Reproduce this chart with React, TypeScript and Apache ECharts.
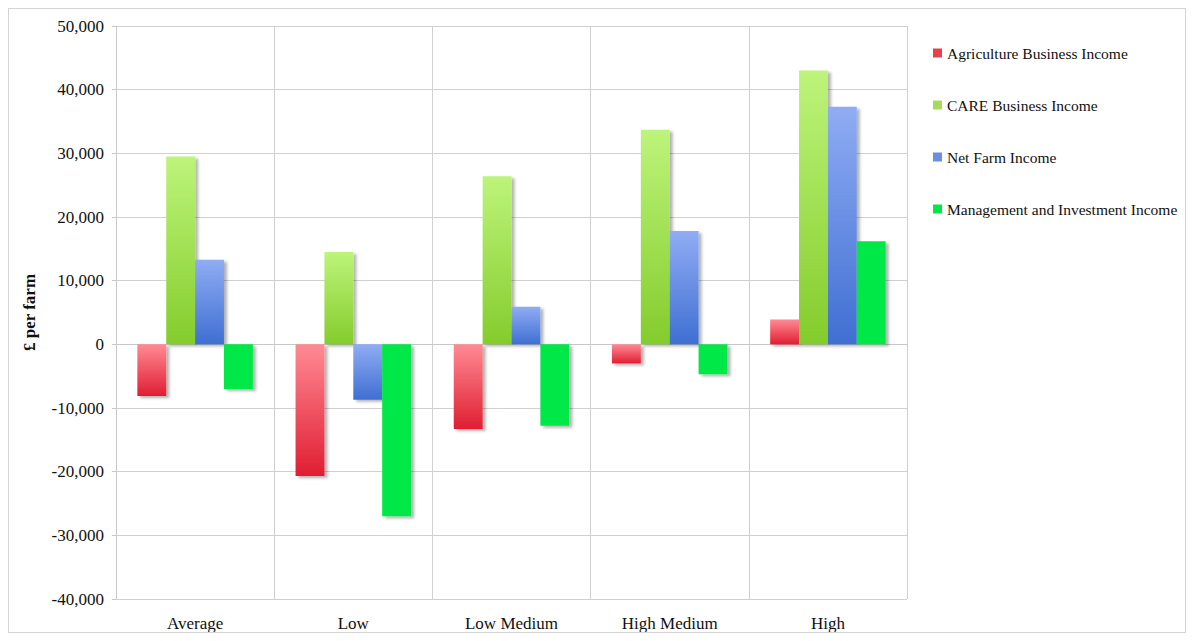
import React, { useEffect, useRef } from "react";
import * as echarts from "echarts";

const categories = ["Average", "Low", "Low Medium", "High Medium", "High"];
const seriesNames = [
  "Agriculture Business Income",
  "CARE Business Income",
  "Net Farm Income",
  "Management and Investment Income",
];
const agriculture = [-8100, -20700, -13300, -3000, 3900];
const care = [29500, 14500, 26400, 33700, 43000];
const netFarm = [13300, -8700, 5900, 17800, 37300];
const management = [-7000, -27000, -12800, -4700, 16200];

const FONT = "'Liberation Serif', 'DejaVu Serif', serif";

function grad(top: string, bottom: string) {
  return new echarts.graphic.LinearGradient(0, 0, 0, 1, [
    { offset: 0, color: top },
    { offset: 1, color: bottom },
  ]);
}

export default function App() {
  const ref = useRef<HTMLDivElement>(null);
  useEffect(() => {
    if (!ref.current) return;
    const chart = echarts.init(ref.current, null, { renderer: "svg" });
    const styles = [
      { fill: grad("#ff8a94", "#e01e32"), legend: "#e8404c" },
      { fill: grad("#bdf47a", "#84cc2c"), legend: "#a6dc5a" },
      { fill: grad("#90acf4", "#3f6fd2"), legend: "#6a8ee0" },
      { fill: "#00e846", legend: "#00e846" },
    ];
    const datas = [agriculture, care, netFarm, management];
    chart.setOption({
      animation: false,
      backgroundColor: "#ffffff",
      grid: { left: 107, right: 278, top: 17, bottom: 23 },
      legend: {
        orient: "vertical",
        left: 919,
        top: 31,
        itemWidth: 9,
        itemHeight: 9,
        itemGap: 36,
        icon: "rect",
        textStyle: { fontFamily: FONT, fontSize: 15.5, color: "#111" },
        data: seriesNames.map((n, i) => ({ name: n, itemStyle: { color: styles[i].legend } })),
      },
      xAxis: {
        type: "category",
        data: categories,
        axisLine: { show: true, lineStyle: { color: "#c8c8c8" } },
        axisTick: { show: false },
        splitLine: { show: true, lineStyle: { color: "#d0d0d0" } },
        axisLabel: { fontFamily: FONT, fontSize: 17, color: "#111", margin: 16 },
      },
      yAxis: {
        type: "value",
        min: -40000,
        max: 50000,
        interval: 10000,
        name: "£ per farm",
        nameLocation: "middle",
        nameRotate: 90,
        nameGap: 78,
        nameTextStyle: { fontFamily: FONT, fontSize: 17, fontWeight: "bold", color: "#111" },
        axisLine: { show: true, lineStyle: { color: "#c8c8c8" } },
        axisTick: { show: true, length: 4, lineStyle: { color: "#c8c8c8" } },
        splitLine: { show: true, lineStyle: { color: "#d0d0d0" } },
        axisLabel: {
          fontFamily: FONT,
          fontSize: 17,
          color: "#111",
          margin: 12,
          formatter: (v: number) => v.toLocaleString("en-US"),
        },
      },
      series: seriesNames.map((n, i) => ({
        name: n,
        type: "bar",
        data: datas[i],
        barGap: "0%",
        barCategoryGap: "27%",
        itemStyle: {
          color: styles[i].fill,
          shadowColor: "rgba(0,0,0,0.3)",
          shadowOffsetX: 3,
          shadowOffsetY: 2,
          shadowBlur: 3,
        },
      })),
    });
    return () => chart.dispose();
  }, []);
  return (
    <div
      ref={ref}
      style={{ width: 1176, height: 623, border: "1px solid #d4d4d4" }}
    />
  );
}
